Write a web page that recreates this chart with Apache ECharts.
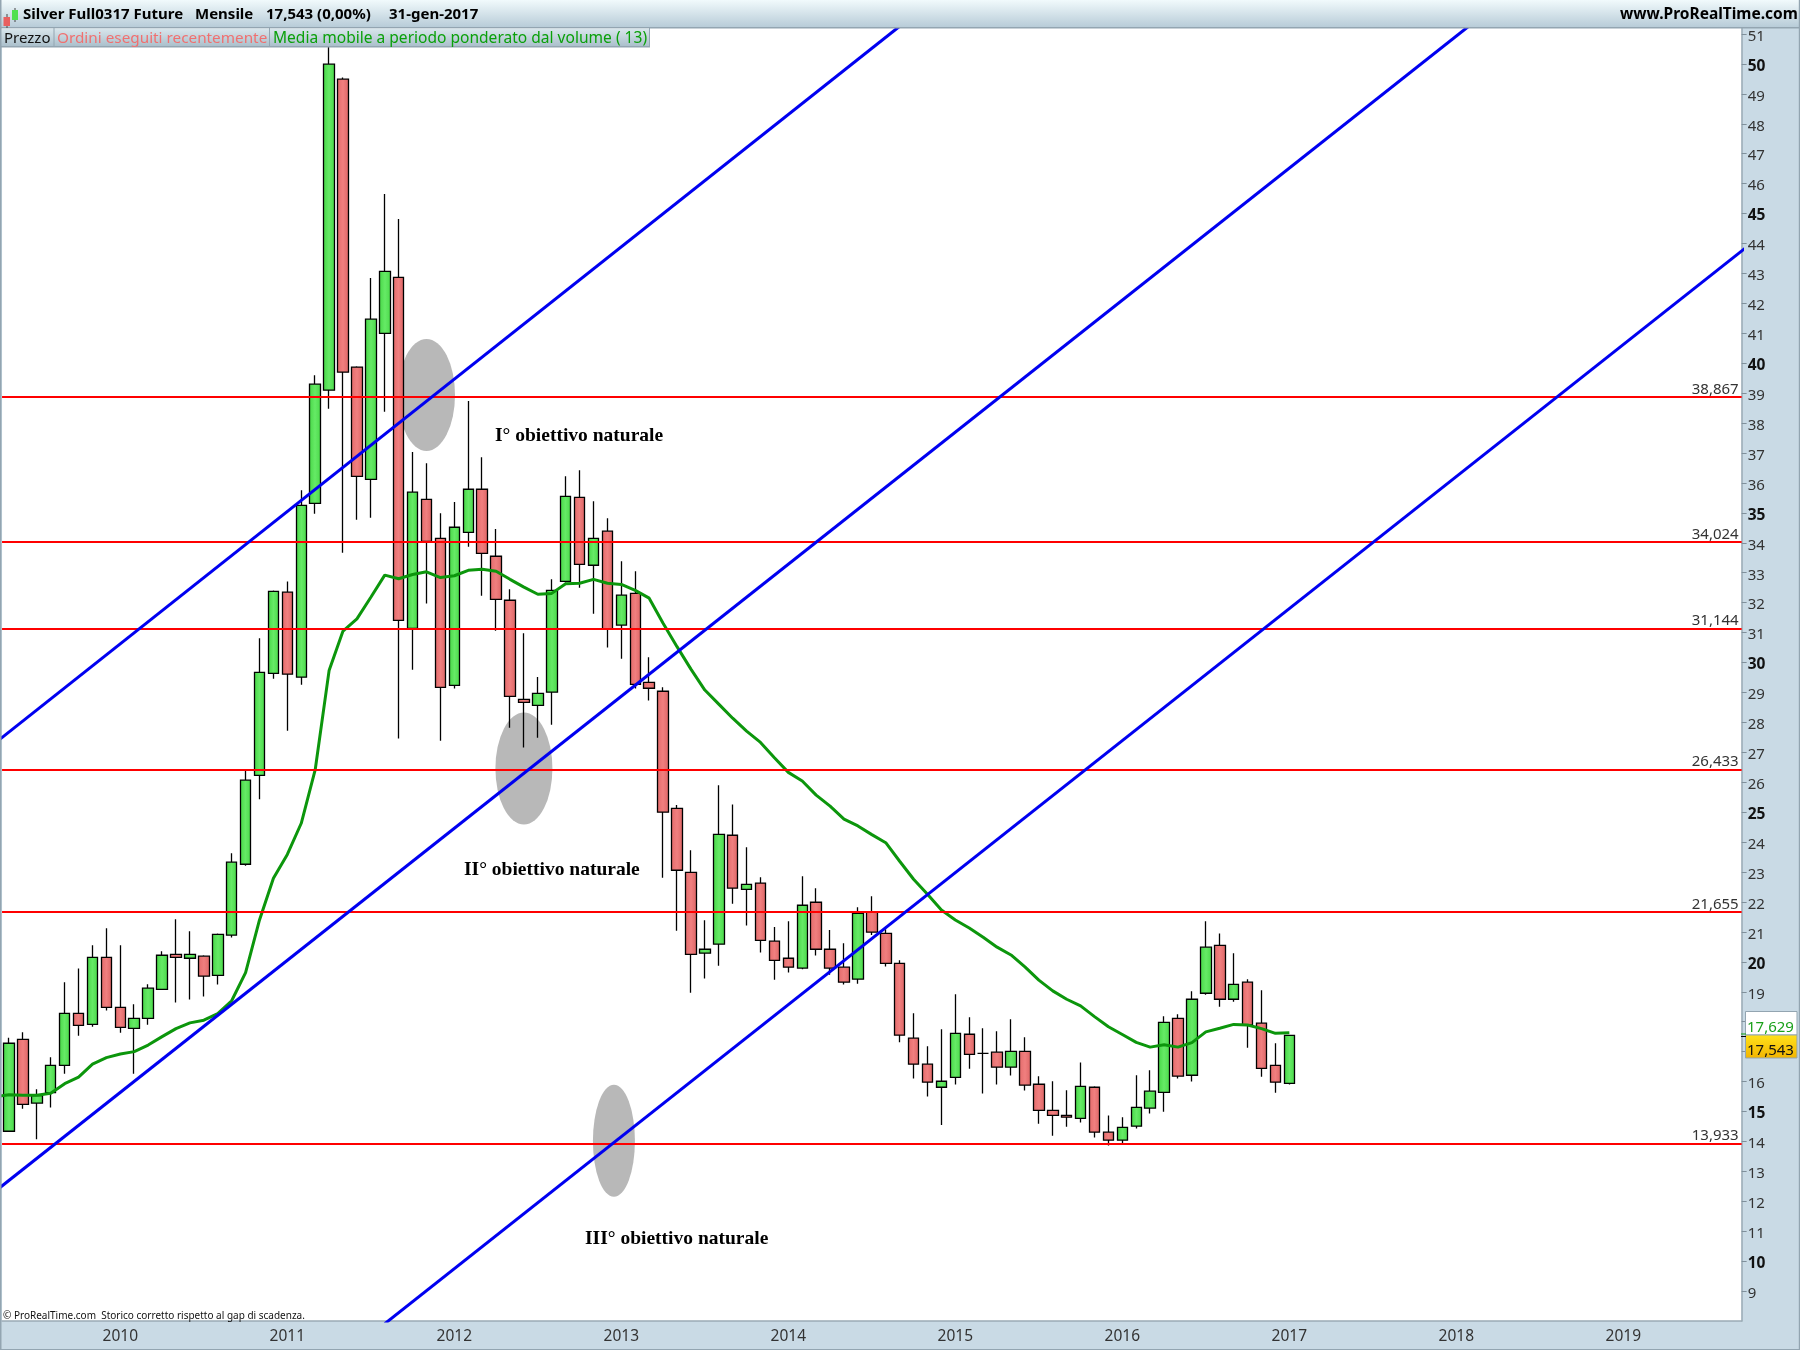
<!DOCTYPE html>
<html>
<head>
<meta charset="utf-8">
<style>html,body{margin:0;padding:0;background:#c9dae5}#c{width:1800px;height:1350px}</style>
<script src="https://cdn.jsdelivr.net/npm/echarts@6/dist/echarts.min.js"></script>
</head>
<body>
<div id="c"></div>
<script>
const startYear = 2009, startMonth = 5, monthCount = 125;
const opens = [
14.34,17.41,15.28,15.63,16.54,18.28,17.91,20.15,18.48,17.78,
18.11,19.08,20.25,20.12,20.19,19.55,20.89,23.26,26.23,29.64,
32.35,29.51,35.32,39.10,49.49,39.87,36.12,41.00,42.87,31.14,
35.45,34.15,29.24,34.35,35.79,33.55,32.08,28.77,28.57,29.01,
32.71,35.52,33.25,34.39,31.25,32.31,29.34,29.04,25.13,22.99,
20.29,20.59,24.23,22.42,22.63,20.69,20.12,19.79,21.99,20.42,
19.82,19.42,21.66,20.95,19.95,17.45,16.58,15.81,16.14,17.58,
16.94,16.98,16.48,17.01,15.91,15.04,14.87,14.77,15.81,14.31,
14.04,14.51,15.11,15.64,18.11,16.21,18.95,20.55,18.75,19.32,
17.95,16.54,15.94];
const closes = [
17.28,15.24,15.53,16.54,18.28,17.88,20.15,18.48,17.81,18.11,
19.12,20.22,20.15,20.25,19.52,20.92,23.33,26.07,29.67,32.38,
29.61,35.25,39.30,49.99,39.70,36.22,41.47,43.07,31.41,35.69,
34.05,29.17,34.52,35.79,33.65,32.11,28.87,28.67,28.97,32.41,
35.55,33.28,34.15,31.12,32.25,29.27,29.14,25.00,23.06,20.25,
20.42,24.26,22.46,22.59,20.72,20.05,19.82,21.89,20.42,19.79,
19.32,21.62,20.99,19.95,17.55,16.58,15.98,16.01,17.61,16.91,
16.94,16.48,17.01,15.88,15.04,14.87,14.81,15.84,14.31,14.04,
14.47,15.14,15.68,17.98,16.18,18.75,20.49,18.75,19.25,17.89,
16.44,15.98,17.543];
const highs = [
17.46,17.65,15.74,16.81,19.32,19.78,20.55,21.12,20.55,18.58,
19.25,20.35,21.42,21.02,20.22,20.95,23.63,26.39,30.81,32.41,
32.71,35.76,39.60,51.13,49.55,39.90,42.85,45.65,44.82,37.03,
36.66,34.99,35.36,38.74,36.86,34.46,32.45,30.98,29.52,32.78,
36.22,36.42,35.39,34.82,33.38,33.05,30.18,29.17,25.24,23.73,
21.39,25.90,25.26,23.83,22.83,21.16,21.36,22.86,22.46,21.06,
20.62,21.82,22.19,21.09,20.05,18.28,17.18,17.75,18.92,18.15,
17.78,17.68,18.08,17.48,16.18,16.01,15.71,16.64,15.84,14.87,
14.81,16.21,16.38,18.18,18.25,19.02,21.36,20.95,20.29,19.42,
19.05,17.28,17.54];
const lows = [
14.34,15.09,14.07,15.13,16.26,17.53,17.83,18.37,17.63,16.26,
17.90,19.08,18.64,18.74,18.84,19.24,20.81,23.21,25.43,29.46,
27.72,29.26,34.97,38.48,33.67,34.77,34.84,38.38,27.46,29.76,
31.97,27.39,29.13,33.87,32.23,31.06,27.82,27.16,27.49,27.92,
32.67,32.50,31.63,30.50,30.13,29.13,28.73,22.81,21.04,18.97,
19.44,19.87,21.94,21.21,20.31,19.40,19.64,19.75,20.21,19.57,
19.24,19.27,20.90,19.84,17.31,16.10,15.50,14.55,15.90,16.43,
15.60,15.90,16.20,15.70,14.59,14.19,14.49,14.63,14.13,13.86,
13.94,14.43,14.93,14.99,16.10,16.00,18.90,18.50,18.67,17.13,
16.16,15.63,15.90];
const movingAverage = [
15.56,15.54,15.54,15.61,15.93,16.15,16.58,16.80,16.92,17.00,
17.22,17.50,17.77,17.96,18.05,18.27,18.70,19.64,21.40,22.79,
23.59,24.63,26.41,29.73,31.05,31.46,32.18,32.92,32.80,32.94,
33.03,32.84,32.90,33.08,33.12,33.05,32.78,32.52,32.28,32.31,
32.63,32.65,32.78,32.65,32.61,32.41,32.15,31.31,30.53,29.78,
29.08,28.61,28.14,27.71,27.33,26.82,26.33,26.04,25.57,25.20,
24.77,24.54,24.25,23.98,23.36,22.76,22.26,21.73,21.40,21.13,
20.82,20.49,20.23,19.83,19.39,19.03,18.75,18.53,18.17,17.83,
17.57,17.31,17.15,17.23,17.15,17.30,17.66,17.78,17.91,17.89,
17.77,17.61,17.629];
const movingAverageBefore = 15.49;
const targetLevels = [38.867, 34.024, 31.144, 26.433, 21.655, 13.933];
const trendUpper = [[-1, 27.31], ['2014-09', 51.26]];
const trendMiddle = [[-1, 12.33], ['2018-02', 51.30]];
const trendLower = [['2011-08', 7.91], [126, 44.30]];
const priceTicks = [9,10,11,12,13,14,15,16,17,18,19,20,21,22,23,24,25,26,27,28,29,30,31,32,33,34,35,36,37,38,39,40,41,42,43,44,45,46,47,48,49,50,51];
const zones = [['2011-11', 38.94], ['2012-06', 26.46]];
const zoneThird = [['2012-12', 14.02]];

const months = [];
for (let i = 0; i < monthCount; i++) {
  const t = startYear * 12 + (startMonth - 1) + i;
  months.push(Math.floor(t / 12) + '-' + String(t % 12 + 1).padStart(2, '0'));
}
const candles = opens.map((o, i) => [o, closes[i], lows[i], highs[i]]);
const maLine = [[-1, movingAverageBefore]].concat(movingAverage.map((v, i) => [i, v]));
const FONT = '"Noto Sans", sans-serif';
const isJan = (i, v) => String(v).endsWith('-01');
const grad = (a, b, c) => ({type: 'linear', x: 0, y: 0, x2: 1, y2: 0, colorStops: [{offset: 0, color: a}, {offset: .5, color: b}, {offset: 1, color: c}]});
const vgrad = (a, b) => ({type: 'linear', x: 0, y: 0, x2: 0, y2: 1, colorStops: [{offset: 0, color: a}, {offset: 1, color: b}]});
const commas = v => v.toFixed(3).replace('.', ',');
const line = (data) => ({type: 'line', data, symbol: 'none', silent: true, z: 6, clip: true, lineStyle: {color: '#0000f0', width: 3}});
const txt = (x, y, text, font, fill, extra) => ({type: 'text', z: 101, x, y, style: Object.assign({text, font, fill, textVerticalAlign: 'middle'}, extra || {})});
const rect = (x, y, w, h, fill, z) => ({type: 'rect', z: z || 100, shape: {x, y, width: w, height: h}, style: {fill}});

const chart = echarts.init(document.getElementById('c'), null, {renderer: 'canvas'});
chart.setOption({
  animation: false,
  backgroundColor: '#c9dae5',
  grid: {left: 2.04, top: 28, width: 1739.6, height: 1293, show: true, backgroundColor: '#ffffff', borderWidth: 0},
  xAxis: {
    type: 'category', data: months, boundaryGap: true,
    axisLine: {lineStyle: {color: '#9aaab5', width: 1.5}},
    axisTick: {interval: isJan, alignWithLabel: true, length: 4, lineStyle: {color: '#9aaab5'}},
    axisLabel: {interval: isJan, formatter: v => v.slice(0, 4), color: '#333333', fontFamily: FONT, fontSize: 15.5, margin: 8},
    splitLine: {show: false}
  },
  yAxis: {
    type: 'value', position: 'right', min: 8, max: 51.2, scale: true,
    axisLine: {show: true, lineStyle: {color: '#9aaab5', width: 1.5}},
    axisTick: {show: true, length: 5, customValues: priceTicks, lineStyle: {color: '#7f8f9a'}},
    axisLabel: {
      customValues: priceTicks, margin: 6, padding: [5, 0, 0, 0], fontFamily: FONT,
      formatter: v => (v % 5 === 0 ? '{b|' + v + '}' : '{n|' + v + '}'),
      rich: {
        n: {color: '#333333', fontFamily: FONT, fontSize: 15},
        b: {color: '#111111', fontFamily: FONT, fontSize: 15.5, fontWeight: 'bold'}
      }
    },
    splitLine: {show: false}
  },
  series: [
    {type: 'scatter', z: 1, silent: true, symbol: 'circle', symbolSize: [57, 112], data: zones, itemStyle: {color: '#b8b8b8', opacity: 1}},
    {type: 'scatter', z: 1, silent: true, symbol: 'circle', symbolSize: [42, 112], symbolOffset: [6.5, 0], data: zoneThird, itemStyle: {color: '#b8b8b8', opacity: 1}},
    {
      type: 'candlestick', z: 2, silent: true, barWidth: 11, data: candles,
      itemStyle: {
        color: grad('#45d645', '#66ea66', '#48d848'), color0: grad('#e36a6a', '#f07f7f', '#dc6464'),
        borderColor: '#000000', borderColor0: '#000000', borderColorDoji: '#000000', borderWidth: 1.3
      }
    },
    {type: 'line', z: 4, silent: true, data: maLine, symbol: 'none', clip: true, lineStyle: {color: '#0c960c', width: 3}},
    {
      type: 'line', z: 5, data: [], silent: true,
      markLine: {
        silent: true, symbol: 'none', animation: false,
        lineStyle: {color: '#ff0000', width: 2, type: 'solid'},
        label: {position: 'insideEndTop', formatter: p => p.name, color: '#333333', fontFamily: FONT, fontSize: 15, distance: [3, 0]},
        data: targetLevels.map(v => ({yAxis: v, name: commas(v)}))
      }
    },
    line(trendUpper), line(trendMiddle), line(trendLower)
  ],
  graphic: {elements: [
    rect(0, 0, 1800, 27, vgrad('#f1fafc', '#b8ccd8')),
    rect(0, 27, 1800, 1.5, '#93a5b1'),
    rect(0, 28.5, 650, 18, vgrad('#d9e6ec', '#aabfcb')),
    rect(0, 46, 650, 1.5, '#93a5b1'),
    rect(53.5, 28, 1, 18, '#93a5b1'),
    rect(269, 28, 1, 18, '#93a5b1'),
    rect(649, 28, 1, 18, '#93a5b1'),
    rect(0, 0, 1.5, 1350, '#93a5b1'),
    rect(1798.8, 0, 1.2, 1350, '#93a5b1'),
    rect(0, 1349, 1800, 1, '#93a5b1'),
    rect(6.5, 14, 1, 14, '#444444', 101),
    rect(3.5, 17, 6.5, 9, '#e86060', 101),
    rect(14.5, 8, 1, 14, '#444444', 101),
    rect(12, 10, 6, 10, '#4fe04f', 101),
    txt(23, 15, 'Silver Full0317 Future', 'bold 15px ' + FONT, '#000000'),
    txt(195, 15, 'Mensile', 'bold 15px ' + FONT, '#000000'),
    txt(266, 15, '17,543 (0,00%)', 'bold 15px ' + FONT, '#000000'),
    txt(389, 15, '31-gen-2017', 'bold 15px ' + FONT, '#000000'),
    txt(1620, 15, 'www.ProRealTime.com', 'bold 15.5px ' + FONT, '#000000'),
    txt(4, 39, 'Prezzo', '15px ' + FONT, '#111111'),
    txt(57, 39, 'Ordini eseguiti recentemente', '15.3px ' + FONT, '#f07070'),
    txt(273, 39, 'Media mobile a periodo ponderato dal volume ( 13)', '15.55px ' + FONT, '#0aa00a'),
    txt(495, 436, 'I° obiettivo naturale', 'bold 19.5px "Liberation Serif"', '#000000'),
    txt(464, 870, 'II° obiettivo naturale', 'bold 19.5px "Liberation Serif"', '#000000'),
    txt(585, 1239, 'III° obiettivo naturale', 'bold 19.5px "Liberation Serif"', '#000000'),
    txt(3, 1316.5, '© ProRealTime.com  Storico corretto rispetto al gap di scadenza.', '10px ' + FONT, '#111111'),
    {type: 'rect', z: 100, shape: {x: 1745.5, y: 1011.5, width: 51.5, height: 23.5}, style: {fill: '#ffffff', stroke: '#93a5b1', lineWidth: 1}},
    {type: 'rect', z: 100, shape: {x: 1745.5, y: 1035, width: 51.5, height: 23}, style: {fill: vgrad('#ffe21c', '#f2b400'), stroke: '#93a5b1', lineWidth: 1}},
    rect(1741, 1033.5, 5, 1, '#0aa00a', 100),
    rect(1741, 1036, 5, 1, '#000000', 100),
    txt(1747, 1028, '17,629', '15px ' + FONT, '#1aa01a'),
    txt(1747, 1051, '17,543', '15px ' + FONT, '#111111')
  ]}
});
</script>
</body>
</html>
